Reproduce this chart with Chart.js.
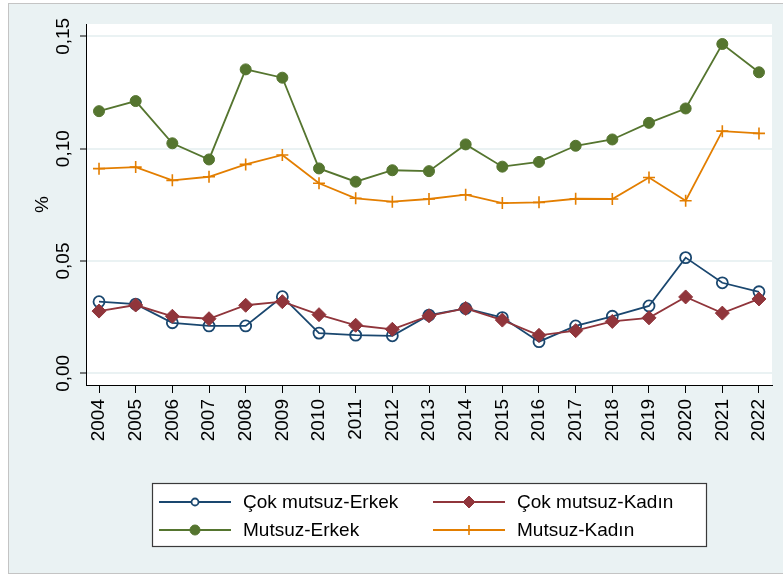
<!DOCTYPE html>
<html>
<head>
<meta charset="utf-8">
<script src="https://cdn.jsdelivr.net/npm/chart.js@4.4.1/dist/chart.umd.min.js"></script>
<style>
  html, body { margin: 0; padding: 0; background: #fff; }
  canvas { display: block; }
</style>
</head>
<body>
<canvas id="chart" width="783" height="577"></canvas>
<script>
const years = [2004, 2005, 2006, 2007, 2008, 2009, 2010, 2011, 2012, 2013,
               2014, 2015, 2016, 2017, 2018, 2019, 2020, 2021, 2022];

// values (share, not percent)
const cokMutsuzErkek = [0.0319, 0.0308, 0.0225, 0.0211, 0.0211, 0.0341, 0.0179, 0.0170, 0.0167, 0.0259,
                        0.0289, 0.0248, 0.0141, 0.0211, 0.0254, 0.0300, 0.0515, 0.0403, 0.0363];
const cokMutsuzKadin = [0.0277, 0.0304, 0.0254, 0.0243, 0.0303, 0.0319, 0.0261, 0.0214, 0.0196, 0.0256,
                        0.0289, 0.0237, 0.0169, 0.0190, 0.0231, 0.0247, 0.0340, 0.0268, 0.0331];
const mutsuzErkek = [0.1167, 0.1212, 0.1024, 0.0952, 0.1353, 0.1316, 0.0912, 0.0853, 0.0904, 0.0900,
                     0.1019, 0.0920, 0.0941, 0.1013, 0.1041, 0.1115, 0.1179, 0.1466, 0.1340];
const mutsuzKadin = [0.0911, 0.0918, 0.0859, 0.0875, 0.0930, 0.0972, 0.0846, 0.0779, 0.0764, 0.0776,
                     0.0795, 0.0758, 0.0761, 0.0777, 0.0776, 0.0872, 0.0768, 0.1078, 0.1068];

const seriesNames = ['Çok mutsuz-Erkek', 'Çok mutsuz-Kadın', 'Mutsuz-Erkek', 'Mutsuz-Kadın'];
const yTickValues = [0, 0.05, 0.10, 0.15];
const yTickLabels = ['0,00', '0,05', '0,10', '0,15'];
const yTitle = '%';

const FONT = "'Liberation Sans', Arial, Helvetica, sans-serif";

function points(arr) {
  return years.map((yr, i) => ({ x: yr, y: arr[i] }));
}

// background, light frame and white plot region
const backdrop = {
  id: 'backdrop',
  beforeDraw(chart) {
    const ctx = chart.ctx;
    const a = chart.chartArea;
    ctx.save();
    ctx.fillStyle = '#ffffff';
    ctx.fillRect(0, 0, chart.width, chart.height);
    ctx.fillStyle = '#eaf2f3';
    ctx.fillRect(8, 3, chart.width - 8, 571);
    ctx.strokeStyle = '#c4c4c4';
    ctx.lineWidth = 1;
    ctx.strokeRect(8.5, 3.5, chart.width, 570);
    ctx.fillStyle = '#ffffff';
    ctx.fillRect(a.left, a.top, a.right - a.left, a.bottom - a.top);
    ctx.restore();
  }
};

// vertical y labels and axis title, the way stata prints them
const yLabels = {
  id: 'yLabels',
  afterDraw(chart) {
    const ctx = chart.ctx;
    const ys = chart.scales.y;
    ctx.save();
    ctx.fillStyle = '#000';
    ctx.font = '19px ' + FONT;
    ctx.textAlign = 'center';
    ctx.textBaseline = 'alphabetic';
    yTickValues.forEach((v, i) => {
      const py = ys.getPixelForValue(v);
      ctx.save();
      ctx.translate(69, py);
      ctx.rotate(-Math.PI / 2);
      ctx.fillText(yTickLabels[i], 0, 0);
      ctx.restore();
    });
    const mid = (chart.chartArea.top + chart.chartArea.bottom) / 2;
    ctx.translate(48, mid);
    ctx.rotate(-Math.PI / 2);
    ctx.fillText(yTitle, 0, 0);
    ctx.restore();
  }
};

// boxed two column legend
const legendRadius = [3.5, 6, 5, 5];
const boxLegend = {
  id: 'boxLegend',
  afterDraw(chart) {
    const ctx = chart.ctx;
    const cols = [159, 433];
    const rows = [502, 530];
    ctx.save();
    ctx.fillStyle = '#ffffff';
    ctx.fillRect(152, 483, 554, 63);
    ctx.strokeStyle = '#3a3a3a';
    ctx.lineWidth = 1.2;
    ctx.strokeRect(152.5, 483.5, 554, 63);
    ctx.font = '19px ' + FONT;
    ctx.textBaseline = 'middle';
    ctx.textAlign = 'left';
    chart.data.datasets.forEach((ds, i) => {
      const x0 = cols[i % 2];
      const y = rows[Math.floor(i / 2)];
      ctx.strokeStyle = ds.borderColor;
      ctx.lineWidth = 1.8;
      ctx.beginPath();
      ctx.moveTo(x0, y);
      ctx.lineTo(x0 + 72, y);
      ctx.stroke();
      ctx.fillStyle = ds.pointBackgroundColor === 'transparent' ? '#ffffff' : ds.pointBackgroundColor;
      ctx.strokeStyle = ds.borderColor;
      ctx.lineWidth = ds.pointBorderWidth;
      Chart.helpers.drawPoint(ctx, {
        pointStyle: ds.pointStyle,
        radius: legendRadius[i],
        borderWidth: ds.pointBorderWidth,
        rotation: 0
      }, x0 + 36, y);
      ctx.fillStyle = '#000';
      ctx.fillText(ds.label, x0 + 84, y + 1);
    });
    ctx.restore();
  }
};

const ctx = document.getElementById('chart').getContext('2d');
new Chart(ctx, {
  type: 'line',
  data: {
    datasets: [
      {
        label: seriesNames[0],
        data: points(cokMutsuzErkek),
        borderColor: '#1a476f',
        borderWidth: 1.8,
        pointStyle: 'circle',
        pointRadius: 5.5,
        pointBorderWidth: 1.8,
        pointBackgroundColor: 'transparent',
        order: 4
      },
      {
        label: seriesNames[1],
        data: points(cokMutsuzKadin),
        borderColor: '#90353b',
        borderWidth: 1.8,
        pointStyle: 'rectRot',
        pointRadius: 7,
        pointBorderWidth: 1,
        pointBackgroundColor: '#90353b',
        order: 3
      },
      {
        label: seriesNames[2],
        data: points(mutsuzErkek),
        borderColor: '#55752f',
        borderWidth: 1.8,
        pointStyle: 'circle',
        pointRadius: 5.5,
        pointBorderWidth: 1,
        pointBackgroundColor: '#55752f',
        order: 2
      },
      {
        label: seriesNames[3],
        data: points(mutsuzKadin),
        borderColor: '#e37e00',
        borderWidth: 1.8,
        pointStyle: 'cross',
        pointRadius: 6,
        pointBorderWidth: 1.6,
        pointBackgroundColor: '#e37e00',
        order: 1
      }
    ]
  },
  options: {
    responsive: false,
    animation: false,
    layout: { padding: { left: 0, right: 11, top: 24, bottom: 0 } },
    plugins: {
      legend: { display: false },
      tooltip: { enabled: false }
    },
    elements: { line: { tension: 0 } },
    scales: {
      x: {
        type: 'linear',
        min: 2003.645,
        max: 2022.355,
        afterBuildTicks: s => { s.ticks = years.map(v => ({ value: v })); },
        afterFit: s => { s.height = 192; s.paddingLeft = 0; s.paddingRight = 0; },
        grid: { drawOnChartArea: false, drawTicks: true, tickLength: 8, tickColor: '#000', tickWidth: 1 },
        border: { color: '#000', width: 1 },
        ticks: {
          autoSkip: false,
          minRotation: 90,
          maxRotation: 90,
          padding: 6,
          color: '#000',
          font: { family: FONT, size: 19 },
          callback: v => String(v)
        }
      },
      y: {
        min: -0.0052,
        max: 0.1555,
        afterBuildTicks: s => { s.ticks = yTickValues.map(v => ({ value: v })); },
        afterFit: s => { s.width = 86; s.paddingTop = 0; s.paddingBottom = 0; },
        grid: { color: '#eaf2f3', lineWidth: 2, drawTicks: true, tickLength: 6, tickColor: '#000', tickWidth: 1 },
        border: { color: '#000', width: 1 },
        ticks: { display: false }
      }
    }
  },
  plugins: [backdrop, yLabels, boxLegend]
});
</script>
</body>
</html>
